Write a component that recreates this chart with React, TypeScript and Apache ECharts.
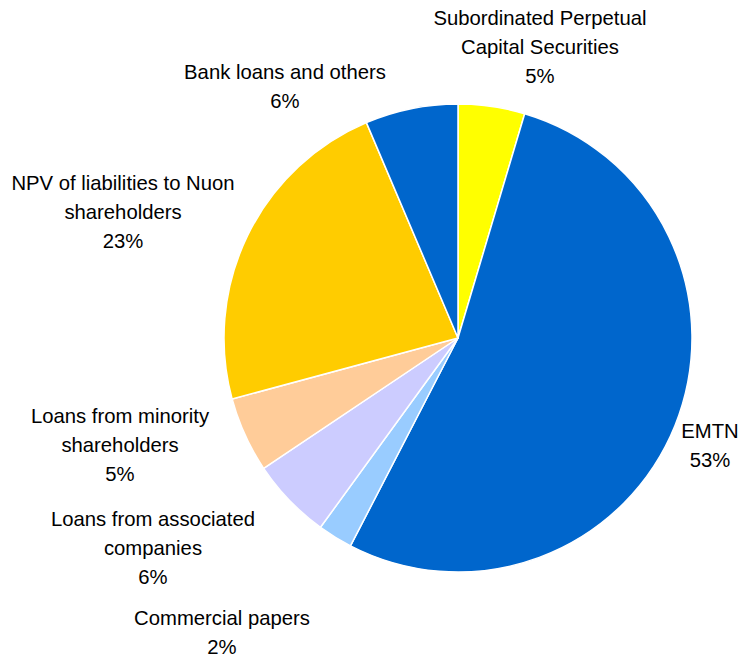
import React, { useEffect, useRef } from "react";
import * as echarts from "echarts";

const categories = [
  "Subordinated Perpetual\nCapital Securities",
  "EMTN",
  "Commercial papers",
  "Loans from associated\ncompanies",
  "Loans from minority\nshareholders",
  "NPV of liabilities to Nuon\nshareholders",
  "Bank loans and others",
];
const values = [4.6, 53.0, 2.4, 5.6, 5.2, 22.8, 6.4];
const colors = ["#FFFF00", "#0066CC", "#99CCFF", "#CCCCFF", "#FFCC99", "#FFCC00", "#0066CC"];
// label centre positions (px)
const labelPos: [number, number][] = [
  [540, 47],
  [710, 445],
  [222, 632],
  [153, 548],
  [120, 445],
  [123, 212],
  [285, 86],
];

export default function App() {
  const ref = useRef<HTMLDivElement>(null);
  useEffect(() => {
    if (!ref.current) return;
    const chart = echarts.init(ref.current, null, { renderer: "svg" });
    const total = values.reduce((a, b) => a + b, 0);
    chart.setOption({
      animation: false,
      backgroundColor: "#ffffff",
      series: [
        {
          type: "pie",
          center: [458, 338],
          radius: 234,
          startAngle: 90,
          clockwise: true,
          avoidLabelOverlap: false,
          itemStyle: { borderColor: "#ffffff", borderWidth: 1.5 },
          label: {
            show: true,
            position: "outside",
            color: "#000000",
            fontFamily: "Liberation Sans, Arial, sans-serif",
            fontSize: 20.3,
            lineHeight: 29,
            align: "center",
            formatter: (p: any) => `${p.name}\n${Math.round((p.value / total) * 100)}%`,
          },
          labelLine: { show: false },
          labelLayout: (p: any) => ({
            x: labelPos[p.dataIndex][0],
            y: labelPos[p.dataIndex][1],
            align: "center",
            verticalAlign: "middle",
          }),
          emphasis: { disabled: true },
          data: categories.map((name, i) => ({
            name,
            value: values[i],
            itemStyle: { color: colors[i] },
          })),
        },
      ],
    });
    return () => chart.dispose();
  }, []);
  return (
    <div
      ref={ref}
      style={{ position: "fixed", left: 0, top: 0, width: 740, height: 659 }}
    />
  );
}
